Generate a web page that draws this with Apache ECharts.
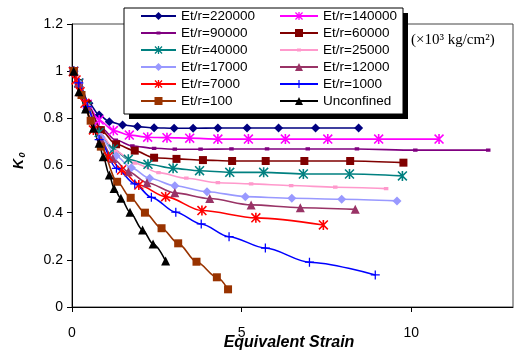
<!DOCTYPE html>
<html><head><meta charset="utf-8">
<script src="https://cdn.jsdelivr.net/npm/echarts@6/dist/echarts.min.js"></script>
<style>html,body{margin:0;padding:0;background:#fff}#c{width:515px;height:356px}</style>
</head><body><div id="c"></div>
<script>
// ---- data ----
const xTicks = [0, 5, 10];
const names = ['Et/r=220000','Et/r=140000','Et/r=90000','Et/r=60000','Et/r=40000','Et/r=25000','Et/r=17000','Et/r=12000','Et/r=7000','Et/r=1000','Et/r=100','Unconfined'];
const legendLeft = ['Et/r=220000','Et/r=90000','Et/r=40000','Et/r=17000','Et/r=7000','Et/r=100'];
const legendRight = ['Et/r=140000','Et/r=60000','Et/r=25000','Et/r=12000','Et/r=1000','Unconfined'];

const x220000 = [0.05, 0.2, 0.5, 0.8, 1.1, 1.49, 1.93, 2.42, 3.01, 3.57, 4.30, 5.16, 6.09, 7.18, 8.45];
const k220000 = [1.0, 0.95, 0.864, 0.814, 0.786, 0.772, 0.765, 0.760, 0.758, 0.758, 0.759, 0.759, 0.759, 0.759, 0.759];
const x140000 = [0.05, 0.2, 0.45, 0.80, 1.22, 1.69, 2.23, 2.80, 3.47, 4.30, 5.20, 6.29, 7.54, 9.04, 10.82];
const k140000 = [1.0, 0.95, 0.86, 0.793, 0.748, 0.729, 0.720, 0.718, 0.716, 0.712, 0.712, 0.712, 0.712, 0.712, 0.712];
const x90000 = [0.05, 0.2, 0.45, 0.85, 1.29, 1.78, 2.42, 3.03, 3.79, 4.70, 5.75, 6.95, 8.40, 10.12, 12.27];
const k90000 = [1.0, 0.95, 0.86, 0.76, 0.708, 0.683, 0.673, 0.669, 0.669, 0.670, 0.670, 0.670, 0.670, 0.665, 0.665];
const x60000 = [0.05, 0.2, 0.45, 0.85, 1.3, 1.85, 2.42, 3.08, 3.86, 4.72, 5.71, 6.85, 8.20, 9.77];
const k60000 = [1.0, 0.95, 0.86, 0.75, 0.69, 0.663, 0.633, 0.628, 0.623, 0.619, 0.619, 0.619, 0.619, 0.612];
const x40000 = [0.05, 0.2, 0.45, 0.8, 1.22, 1.66, 2.24, 2.98, 3.76, 4.65, 5.65, 6.82, 8.18, 9.74];
const k40000 = [1.0, 0.95, 0.85, 0.74, 0.669, 0.626, 0.605, 0.588, 0.578, 0.571, 0.571, 0.564, 0.564, 0.556];
const x25000 = [0.05, 0.2, 0.45, 0.85, 1.3, 1.85, 2.55, 3.37, 4.30, 5.28, 6.46, 7.76, 9.26];
const k25000 = [1.0, 0.95, 0.85, 0.73, 0.66, 0.61, 0.57, 0.546, 0.527, 0.522, 0.515, 0.508, 0.502];
const x17000 = [0.05, 0.2, 0.45, 0.85, 1.3, 1.75, 2.29, 3.03, 3.98, 5.11, 6.48, 7.95, 9.58];
const k17000 = [1.0, 0.95, 0.85, 0.72, 0.64, 0.59, 0.546, 0.514, 0.489, 0.468, 0.461, 0.457, 0.450];
const x12000 = [0.05, 0.2, 0.45, 0.85, 1.2, 1.66, 2.21, 3.03, 4.06, 5.28, 6.73, 8.35];
const k12000 = [1.0, 0.95, 0.85, 0.71, 0.63, 0.574, 0.527, 0.484, 0.460, 0.433, 0.421, 0.414];
const x7000 = [0.04, 0.12, 0.24, 0.38, 0.63, 1.07, 1.46, 1.97, 2.76, 3.83, 5.42, 7.41];
const k7000 = [0.998, 0.963, 0.913, 0.864, 0.751, 0.637, 0.581, 0.517, 0.468, 0.409, 0.378, 0.348];
const x1000 = [0.05, 0.2, 0.45, 0.8, 1.31, 1.85, 2.34, 3.06, 3.81, 4.63, 5.7, 7.0, 8.94];
const k1000 = [1.0, 0.95, 0.85, 0.71, 0.588, 0.522, 0.465, 0.402, 0.352, 0.298, 0.25, 0.19, 0.136];
const x100 = [0.05, 0.28, 0.55, 0.85, 1.33, 1.73, 2.15, 2.64, 3.13, 3.67, 4.27, 4.60];
const k100 = [1.0, 0.899, 0.79, 0.68, 0.531, 0.463, 0.400, 0.334, 0.270, 0.192, 0.126, 0.075];
const xUnc = [0.05, 0.2, 0.4, 0.63, 0.80, 0.92, 1.10, 1.24, 1.44, 1.71, 2.08, 2.39, 2.76];
const kUnc = [1.0, 0.913, 0.84, 0.758, 0.694, 0.637, 0.560, 0.503, 0.461, 0.402, 0.327, 0.267, 0.195];

// ---- styling ----
const ASTER = 'path://M4.2 0 L5.8 0 L5.8 10 L4.2 10 Z M0 1.1 L1.1 0 L10 8.9 L8.9 10 Z M8.9 0 L10 1.1 L1.1 10 L0 8.9 Z';
const PLUS = 'path://M4.3 0 L5.7 0 L5.7 10 L4.3 10 Z M0 4.3 L10 4.3 L10 5.7 L0 5.7 Z';
const SMALLSQ = 'path://M0 0 L0.01 0 Z M10 10 L9.99 10 Z M2.5 3.2 L7.5 3.2 L7.5 6.8 L2.5 6.8 Z';
const FONT = 'Liberation Sans';

function mk(name, xs, ks, color, symbol, size) {
  return {
    name: name, type: 'line', data: xs.map((x, i) => [x, ks[i]]),
    smooth: 0.3, smoothMonotone: 'x', symbol: symbol, symbolSize: size, showSymbol: true,
    lineStyle: { color: color, width: 1.6 }, itemStyle: { color: color, borderWidth: 0 },
    emphasis: { disabled: true }, z: 2
  };
}

const series = [
  mk(names[0], x220000, k220000, '#000080', 'diamond', 9),
  mk(names[1], x140000, k140000, '#FF00FF', ASTER, 10),
  mk(names[2], x90000, k90000, '#800080', SMALLSQ, 9),
  mk(names[3], x60000, k60000, '#800000', 'rect', 8),
  mk(names[4], x40000, k40000, '#008080', ASTER, 10),
  mk(names[5], x25000, k25000, '#FF99CC', SMALLSQ, 9),
  mk(names[6], x17000, k17000, '#9999FF', 'diamond', 9),
  mk(names[7], x12000, k12000, '#993366', 'triangle', 9),
  mk(names[8], x7000, k7000, '#FF0000', ASTER, 10),
  mk(names[9], x1000, k1000, '#0000FF', PLUS, 9),
  mk(names[10], x100, k100, '#993300', 'rect', 8),
  mk(names[11], xUnc, kUnc, '#000000', 'triangle', 9)
];

const legendCommon = {
  orient: 'vertical', top: 9, padding: 0, itemHeight: 10, itemGap: 3,
  selectedMode: false, z: 20,
  textStyle: { fontSize: 13.5, fontFamily: FONT, color: '#000', lineHeight: 14 }
};

const chart = echarts.init(document.getElementById('c'), null, { renderer: 'canvas' });
chart.setOption({
  animation: false,
  backgroundColor: '#fff',
  grid: { left: 72, top: 24, right: 2, bottom: 49, show: true, borderColor: '#444', borderWidth: 1 },
  xAxis: {
    type: 'value', min: 0, max: 13, interval: 5,
    axisLine: { show: true, onZero: false, lineStyle: { color: '#000', width: 1 } },
    axisTick: { show: true, length: 5, customValues: xTicks, lineStyle: { color: '#000' } },
    axisLabel: { customValues: xTicks, margin: 19, fontSize: 14, fontFamily: FONT, color: '#000' },
    splitLine: { show: false }
  },
  yAxis: {
    type: 'value', min: 0, max: 1.2, interval: 0.2,
    axisLine: { show: true, onZero: false, lineStyle: { color: '#000', width: 1 } },
    axisTick: { show: true, length: 5, lineStyle: { color: '#000' } },
    axisLabel: { margin: 9, fontSize: 14, fontFamily: FONT, color: '#000' },
    splitLine: { show: false }
  },
  legend: [
    Object.assign({}, legendCommon, { data: legendLeft, left: 140, itemWidth: 35 }),
    Object.assign({}, legendCommon, { data: legendRight, left: 279, itemWidth: 38 })
  ],
  graphic: [
    { type: 'rect', z: 10, shape: { x: 129, y: 13, width: 279, height: 106 }, style: { fill: '#000' } },
    { type: 'rect', z: 11, shape: { x: 124, y: 8, width: 279, height: 106 }, style: { fill: '#fff', stroke: '#000', lineWidth: 1 } },
    { type: 'text', z: 12, style: { x: 411, y: 40, text: '(×10³ kg/cm²)', font: '15px "Liberation Serif"', fill: '#000', verticalAlign: 'middle' } },
    { type: 'text', z: 12, x: 19, y: 164, rotation: Math.PI / 2, style: { x: 0, y: 0, text: 'K', font: 'italic bold 14px "Liberation Sans"', fill: '#000', align: 'center', verticalAlign: 'middle' } },
    { type: 'text', z: 12, x: 23, y: 155, rotation: Math.PI / 2, style: { x: 0, y: 0, text: '0', font: 'italic bold 9px "Liberation Sans"', fill: '#000', align: 'center', verticalAlign: 'middle' } },
    { type: 'text', z: 12, style: { x: 289, y: 343, text: 'Equivalent Strain', font: 'italic bold 16px "Liberation Sans"', fill: '#000', align: 'center', verticalAlign: 'middle' } }
  ],
  series: series
});
</script></body></html>
